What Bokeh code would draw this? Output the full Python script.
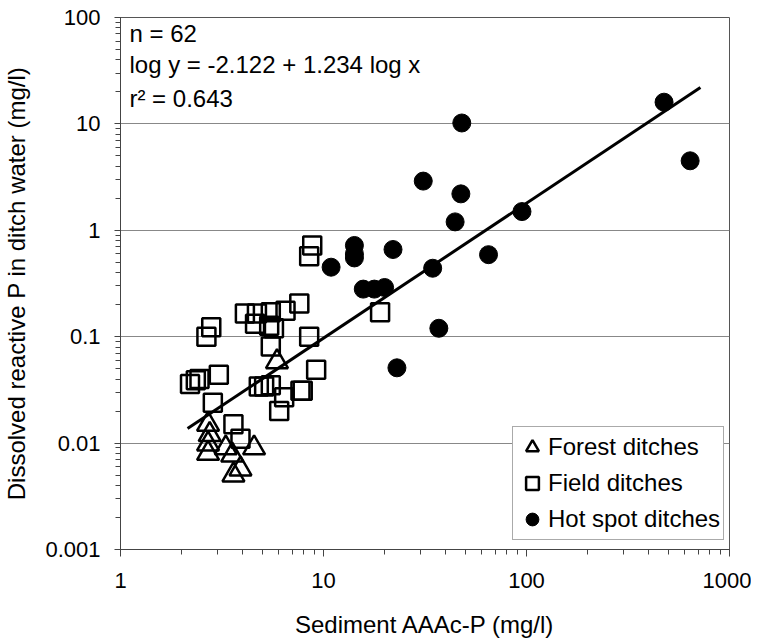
from bokeh.plotting import figure
from bokeh.models import Range1d, Label, Legend, LegendItem, CustomJSTickFormatter, LogTicker
from bokeh.embed import file_html
from bokeh.resources import INLINE

# Forest ditches (triangles)
forest_x = [2.7, 2.75, 2.7, 2.7, 3.3, 3.55, 4.55, 3.9, 3.6, 5.9]
forest_y = [0.015, 0.012, 0.0098, 0.008, 0.009, 0.0077, 0.009, 0.0057, 0.005, 0.058]

# Field ditches (squares)
field_x = [7.6, 4.1, 4.7, 5.5, 6.5, 4.6, 5.4, 5.7, 2.8, 2.65, 8.5, 5.5, 9.2, 3.05,
           2.35, 2.2, 2.45, 4.8, 5.1, 5.5, 6.4, 7.7, 7.9, 6.05, 2.85, 3.6, 3.9,
           8.8, 8.5, 19]
field_y = [0.205, 0.165, 0.165, 0.17, 0.175, 0.132, 0.127, 0.12, 0.123, 0.10, 0.10,
           0.081, 0.049, 0.044, 0.039, 0.036, 0.04, 0.034, 0.034, 0.035, 0.027,
           0.031, 0.031, 0.020, 0.024, 0.015, 0.011, 0.72, 0.57, 0.17]

# Hot spot ditches (filled circles)
hot_x = [48, 31, 47.5, 44.5, 95, 14.2, 14.2, 14.2, 10.9, 22, 34.5, 65, 15.7, 17.8,
         20, 476, 640, 23, 37]
hot_y = [10.2, 2.9, 2.2, 1.2, 1.5, 0.72, 0.6, 0.55, 0.45, 0.66, 0.44, 0.59, 0.28,
         0.28, 0.29, 16, 4.5, 0.051, 0.12]

# Regression line end points (as drawn)
fit_x = [2.14, 719]
fit_y = [0.0137, 22]

stats_lines = ["n = 62", "log y = -2.122 + 1.234 log x", "r\u00b2 = 0.643"]
stats_y = [70, 36.5, 17.3]

FONT = "Liberation Sans"

p = figure(frame_width=609, frame_height=532, x_axis_type="log", y_axis_type="log",
           x_range=Range1d(1, 1000), y_range=Range1d(0.001, 100),
           output_backend="svg", toolbar_location=None,
           min_border_left=115, min_border_right=22, min_border_top=17,
           min_border_bottom=70)
p.background_fill_color = "white"
p.border_fill_color = "white"
p.outline_line_color = "#555555"
p.outline_line_width = 1

p.xgrid.visible = False
p.ygrid.grid_line_color = "#888888"
p.ygrid.grid_line_width = 1

fmt = CustomJSTickFormatter(code="return Number(tick.toPrecision(3)).toString();")
p.xaxis.formatter = fmt
p.yaxis.formatter = fmt
p.xaxis.ticker = LogTicker(num_minor_ticks=10)
p.yaxis.ticker = LogTicker(num_minor_ticks=10)

for ax in (p.xaxis, p.yaxis):
    ax.axis_line_color = "#444444"
    ax.major_tick_line_color = "#444444"
    ax.minor_tick_line_color = "#444444"
    ax.major_tick_in = 0
    ax.minor_tick_in = 0
    ax.major_label_text_font = FONT
    ax.major_label_text_font_size = "22px"
    ax.major_label_text_color = "black"
    ax.axis_label_text_font = FONT
    ax.axis_label_text_font_size = "24px"
    ax.axis_label_text_font_style = "normal"
    ax.axis_label_text_color = "black"

p.xaxis.major_tick_out = 7
p.xaxis.minor_tick_out = 5
p.xaxis.major_label_standoff = 16
p.xaxis.axis_label_standoff = 20
p.yaxis.major_tick_out = 6
p.yaxis.minor_tick_out = 5
p.yaxis.major_label_standoff = 14
p.yaxis.axis_label_standoff = 12

p.xaxis.axis_label = "Sediment AAAc-P (mg/l)"
p.yaxis.axis_label = "Dissolved reactive P in ditch water (mg/l)"

p.line(fit_x, fit_y, line_color="black", line_width=3)

r_forest = p.scatter(forest_x, forest_y, marker="triangle", size=22,
                     fill_color="white", fill_alpha=0, line_color="black", line_width=2.5)
r_field = p.scatter(field_x, field_y, marker="square", size=18,
                    fill_color="white", fill_alpha=0, line_color="black", line_width=2.5)
r_hot = p.scatter(hot_x, hot_y, marker="circle", size=18,
                  fill_color="black", line_color="black")

for txt, yy in zip(stats_lines, stats_y):
    p.add_layout(Label(x=1.107, y=yy, text=txt, text_font=FONT, text_font_size="24px",
                       text_color="black", text_baseline="alphabetic"))

legend = Legend(items=[LegendItem(label="Forest ditches", renderers=[r_forest]),
                       LegendItem(label="Field ditches", renderers=[r_field]),
                       LegendItem(label="Hot spot ditches", renderers=[r_hot])],
                location=(392, 9))
legend.label_text_font = FONT
legend.label_text_font_size = "24px"
legend.label_text_color = "black"
legend.border_line_color = "#555555"
legend.border_line_width = 1
legend.background_fill_alpha = 1
legend.label_height = 34
legend.glyph_height = 34
legend.glyph_width = 32
legend.label_standoff = 0
legend.spacing = 2
legend.padding = 3
legend.margin = 0
p.add_layout(legend, "center")

open("out.html", "w").write(file_html(p, INLINE))
